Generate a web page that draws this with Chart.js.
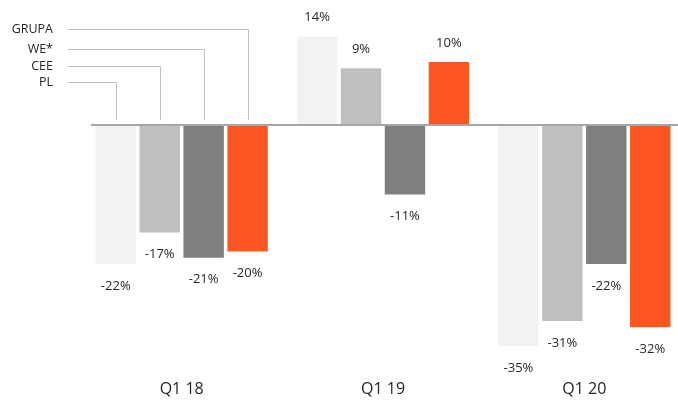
<!DOCTYPE html>
<html>
<head>
<meta charset="utf-8">
<script src="https://cdn.jsdelivr.net/npm/chart.js@4"></script>
<style>
  html, body { margin: 0; padding: 0; background: #fff; overflow: hidden; }
  #wrap { width: 700px; height: 403px; }
</style>
</head>
<body>
<div id="wrap"><canvas id="myChart" width="700" height="403"></canvas></div>
<script>
const categories = ['Q1 18', 'Q1 19', 'Q1 20'];
const seriesNames = ['PL', 'CEE', 'WE*', 'GRUPA'];
const plValues = [-22, 14, -35];
const ceeValues = [-17, 9, -31];
const weValues = [-21, -11, -22];
const grupaValues = [-20, 10, -32];
const seriesColors = ['#f2f2f2', '#bfbfbf', '#7f7f7f', '#fd5621'];

const FONT = '"Open Sans", "Noto Sans", sans-serif';

// zero line across the plot
const zeroLine = {
    id: 'zeroLine',
    afterDatasetsDraw(chart) {
        const { ctx, chartArea, scales } = chart;
        const y = scales.y.getPixelForValue(0);
        ctx.save();
        ctx.strokeStyle = '#a6a6a6';
        ctx.lineWidth = 2;
        ctx.beginPath();
        ctx.moveTo(chartArea.left + 10, y);
        ctx.lineTo(chartArea.right, y);
        ctx.stroke();
        ctx.restore();
    }
};

// percentage labels at bar ends
const valueLabels = {
    id: 'valueLabels',
    afterDatasetsDraw(chart) {
        const { ctx } = chart;
        ctx.save();
        ctx.font = '13px ' + FONT;
        ctx.fillStyle = '#262626';
        ctx.textAlign = 'center';
        ctx.textBaseline = 'middle';
        chart.data.datasets.forEach((ds, i) => {
            chart.getDatasetMeta(i).data.forEach((bar, j) => {
                const v = ds.data[j];
                const y = v >= 0 ? bar.y - 19 : bar.y + 22;
                ctx.fillText(v + '%', bar.x, y);
            });
        });
        ctx.restore();
    }
};

// legend text with leader lines down to the first group
const leaderLegend = {
    id: 'leaderLegend',
    afterDraw(chart) {
        const { ctx, scales } = chart;
        const rows = [82, 66, 49, 29]; // PL, CEE, WE*, GRUPA
        const zeroY = scales.y.getPixelForValue(0);
        ctx.save();
        ctx.font = '12.5px ' + FONT;
        ctx.fillStyle = '#262626';
        ctx.textAlign = 'right';
        ctx.textBaseline = 'middle';
        ctx.strokeStyle = '#bfbfbf';
        ctx.lineWidth = 1;
        chart.data.datasets.forEach((ds, i) => {
            const bar = chart.getDatasetMeta(i).data[0];
            const y = rows[i];
            ctx.fillText(ds.label, 53, y);
            const bx = Math.round(bar.x) + 0.5;
            ctx.beginPath();
            ctx.moveTo(68, y + 0.5);
            ctx.lineTo(bx, y + 0.5);
            ctx.lineTo(bx, zeroY - 5);
            ctx.stroke();
        });
        ctx.restore();
    }
};

const ctx = document.getElementById('myChart').getContext('2d');
const myChart = new Chart(ctx, {
    type: 'bar',
    data: {
        labels: categories,
        datasets: [plValues, ceeValues, weValues, grupaValues].map((vals, i) => ({
            label: seriesNames[i],
            data: vals,
            backgroundColor: seriesColors[i],
            borderWidth: 0,
            categoryPercentage: 0.873,
            barPercentage: 0.92
        }))
    },
    options: {
        responsive: false,
        animation: false,
        layout: { padding: { left: 81, right: 15, top: 24, bottom: 2 } },
        plugins: {
            legend: { display: false },
            tooltip: { enabled: false }
        },
        scales: {
            x: {
                grid: { display: false, drawTicks: false },
                border: { display: false },
                ticks: { font: { family: FONT, size: 16 }, color: '#262626', padding: 2 }
            },
            y: {
                display: false,
                min: -40,
                max: 16
            }
        }
    },
    plugins: [zeroLine, valueLabels, leaderLegend]
});
</script>
</body>
</html>
